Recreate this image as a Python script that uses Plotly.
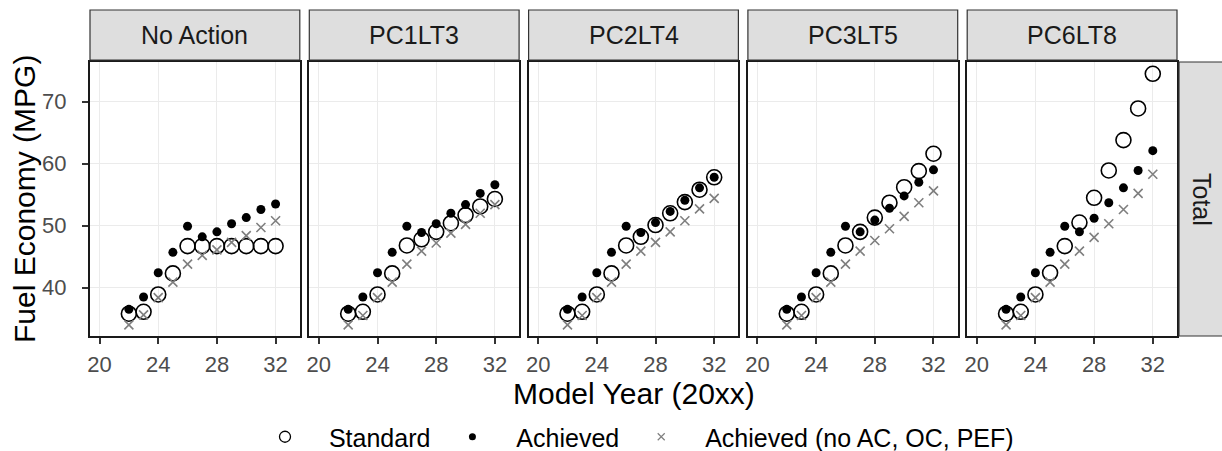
import plotly.graph_objects as go

# ---------------- data ----------------
years = [22, 23, 24, 25, 26, 27, 28, 29, 30, 31, 32]
panels = ["No Action", "PC1LT3", "PC2LT4", "PC3LT5", "PC6LT8"]
row_label = "Total"
series_names = ["Standard", "Achieved", "Achieved (no AC, OC, PEF)"]
x_ticks = [20, 24, 28, 32]
y_ticks = [40, 50, 60, 70]

standard_no_action = [35.8, 36.1, 38.9, 42.3, 46.7, 46.7, 46.7, 46.7, 46.7, 46.7, 46.7]
achieved_no_action = [36.5, 38.5, 42.4, 45.7, 49.9, 48.2, 49.0, 50.3, 51.3, 52.6, 53.5]
noac_no_action = [34.0, 35.6, 38.4, 40.9, 43.8, 45.2, 46.1, 47.3, 48.4, 49.7, 50.8]

standard_pc1lt3 = [35.8, 36.1, 38.9, 42.3, 46.8, 47.8, 49.0, 50.4, 51.7, 53.1, 54.3]
achieved_pc1lt3 = [36.5, 38.5, 42.4, 45.7, 49.9, 48.9, 50.3, 52.0, 53.4, 55.2, 56.6]
noac_pc1lt3 = [34.0, 35.5, 38.4, 40.9, 43.8, 45.9, 47.2, 48.8, 50.2, 52.0, 53.4]

standard_pc2lt4 = [35.8, 36.1, 38.9, 42.3, 46.8, 48.2, 50.1, 52.0, 53.8, 55.8, 57.8]
achieved_pc2lt4 = [36.5, 38.5, 42.4, 45.7, 49.9, 48.9, 50.5, 52.3, 54.1, 56.1, 57.8]
noac_pc2lt4 = [34.0, 35.5, 38.4, 40.9, 43.8, 45.9, 47.3, 49.0, 50.8, 52.7, 54.4]

standard_pc3lt5 = [35.8, 36.1, 38.9, 42.3, 46.8, 49.0, 51.3, 53.7, 56.2, 58.8, 61.6]
achieved_pc3lt5 = [36.5, 38.5, 42.4, 45.7, 49.9, 49.0, 50.9, 52.8, 54.8, 57.0, 59.0]
noac_pc3lt5 = [34.0, 35.5, 38.4, 40.9, 43.8, 45.9, 47.6, 49.5, 51.5, 53.7, 55.6]

standard_pc6lt8 = [35.8, 36.1, 38.9, 42.4, 46.7, 50.5, 54.5, 58.9, 63.8, 68.9, 74.5]
achieved_pc6lt8 = [36.5, 38.5, 42.4, 45.7, 49.9, 49.0, 51.2, 53.7, 56.1, 58.9, 62.1]
noac_pc6lt8 = [34.0, 35.5, 38.4, 40.9, 43.8, 45.9, 48.1, 50.3, 52.6, 55.2, 58.3]

standard = [standard_no_action, standard_pc1lt3, standard_pc2lt4, standard_pc3lt5, standard_pc6lt8]
achieved = [achieved_no_action, achieved_pc1lt3, achieved_pc2lt4, achieved_pc3lt5, achieved_pc6lt8]
noac = [noac_no_action, noac_pc1lt3, noac_pc2lt4, noac_pc3lt5, noac_pc6lt8]

# ---------------- layout geometry ----------------
W, H = 1222, 451
L, R, T, B = 90, 45, 62, 115
PW = W - L - R
PH = H - T - B
GAP = 9.5
N = len(panels)
panel_w = (PW - GAP * (N - 1)) / N
domains = [[i * (panel_w + GAP) / PW, (i * (panel_w + GAP) + panel_w) / PW] for i in range(N)]

FONT = "Liberation Sans, Arial, sans-serif"
GRID = "#EBEBEB"
BORDER = "#1A1A1A"

std_marker = dict(symbol="circle-open", size=15, color="black", line=dict(width=1.6, color="black"))
ach_marker = dict(symbol="circle", size=9, color="black", line=dict(width=0))
noac_marker = dict(symbol="x-thin-open", size=9, color="#7F7F7F", line=dict(width=1.6, color="#7F7F7F"))

fig = go.Figure()
for i in range(N):
    xa = "x" if i == 0 else f"x{i+1}"
    ya = "y" if i == 0 else f"y{i+1}"
    fig.add_trace(go.Scatter(x=years, y=standard[i], mode="markers", marker=std_marker,
                             xaxis=xa, yaxis=ya, showlegend=False, name=series_names[0]))
    fig.add_trace(go.Scatter(x=years, y=achieved[i], mode="markers", marker=ach_marker,
                             xaxis=xa, yaxis=ya, showlegend=False, name=series_names[1]))
    fig.add_trace(go.Scatter(x=years, y=noac[i], mode="markers", marker=noac_marker,
                             xaxis=xa, yaxis=ya, showlegend=False, name=series_names[2]))

# legend-only entries (smaller keys, like the reference)
leg_markers = [
    dict(symbol="circle-open", size=11, color="black", line=dict(width=1.3, color="black")),
    dict(symbol="circle", size=7, color="black"),
    dict(symbol="x-thin-open", size=7, color="#7F7F7F", line=dict(width=1.2, color="#7F7F7F")),
]
for name, mk in zip(series_names, leg_markers):
    fig.add_trace(go.Scatter(x=[None], y=[None], mode="markers", marker=mk,
                             name="\u00a0" + name, showlegend=True))

layout = dict(
    width=W, height=H,
    margin=dict(l=L, r=R, t=T, b=B, pad=0, autoexpand=False),
    paper_bgcolor="white", plot_bgcolor="white",
    font=dict(family=FONT, color="black"),
    showlegend=True,
    legend=dict(orientation="h", x=0.5, xanchor="center", y=(PH - (437 - T)) / PH, yanchor="middle",
                font=dict(size=25, color="black", family=FONT), bgcolor="rgba(0,0,0,0)",
                itemwidth=64, tracegroupgap=0),
)
for i in range(N):
    xk = "xaxis" if i == 0 else f"xaxis{i+1}"
    yk = "yaxis" if i == 0 else f"yaxis{i+1}"
    ya = "y" if i == 0 else f"y{i+1}"
    xa = "x" if i == 0 else f"x{i+1}"
    layout[xk] = dict(domain=domains[i], anchor=ya, range=[19.35, 33.65], tickvals=x_ticks,
                      ticktext=[str(v) for v in x_ticks],
                      showgrid=True, gridcolor=GRID, gridwidth=1, zeroline=False,
                      showline=True, mirror=True, linecolor=BORDER, linewidth=2,
                      ticks="outside", ticklen=6, tickwidth=1.5, tickcolor="#333333",
                      ticklabelstandoff=2,
                      tickfont=dict(size=22, color="#4D4D4D", family=FONT), automargin=False)
    layout[yk] = dict(domain=[0, 1], anchor=xa, range=[32.2, 76.4], tickvals=y_ticks,
                      showgrid=True, gridcolor=GRID, gridwidth=1, zeroline=False,
                      showline=True, mirror=True, linecolor=BORDER, linewidth=2,
                      ticks="outside" if i == 0 else "", ticklen=6, tickwidth=1.5, tickcolor="#333333",
                      showticklabels=(i == 0), automargin=False, ticklabelstandoff=11,
                      tickfont=dict(size=22, color="#4D4D4D", family=FONT))
    if i > 0:
        layout[yk]["matches"] = "y"
fig.update_layout(**layout)

# strips
strip_fill = "#DEDEDE"
strip_line = "#333333"
s_y0 = 1 + 2 / PH
s_y1 = 1 + 52 / PH
for i, name in enumerate(panels):
    fig.add_shape(type="rect", xref="paper", yref="paper", x0=domains[i][0], x1=domains[i][1],
                  y0=s_y0, y1=s_y1, fillcolor=strip_fill, line=dict(color=strip_line, width=1.2),
                  layer="above")
    fig.add_annotation(text=name, xref="paper", yref="paper", x=(domains[i][0] + domains[i][1]) / 2,
                       y=(s_y0 + s_y1) / 2, xanchor="center", yanchor="middle", showarrow=False,
                       font=dict(size=25, color="#1A1A1A", family=FONT))
# right strip
fig.add_shape(type="rect", xref="paper", yref="paper", x0=1 + 2 / PW, x1=1 + 60 / PW,
              y0=0, y1=1, fillcolor=strip_fill, line=dict(color=strip_line, width=1.2), layer="above")
fig.add_annotation(text=row_label, xref="paper", yref="paper", x=1 + (1202 - (W - R)) / PW, y=0.5,
                   xanchor="center", yanchor="middle", textangle=90, showarrow=False,
                   font=dict(size=25, color="#1A1A1A", family=FONT))

# axis titles
fig.add_annotation(text="Model Year (20xx)", xref="paper", yref="paper", x=0.5,
                   y=-(393 - (H - B)) / PH, xanchor="center", yanchor="middle", showarrow=False,
                   font=dict(size=30, color="black", family=FONT))
fig.add_annotation(text="Fuel Economy (MPG)", xref="paper", yref="paper", x=-(L - 24) / PW,
                   y=0.5, xanchor="center", yanchor="middle", textangle=-90, showarrow=False,
                   font=dict(size=30, color="black", family=FONT))

fig.write_html("out.html", config={"displayModeBar": False},
               post_script="document.body.style.margin='0';")
